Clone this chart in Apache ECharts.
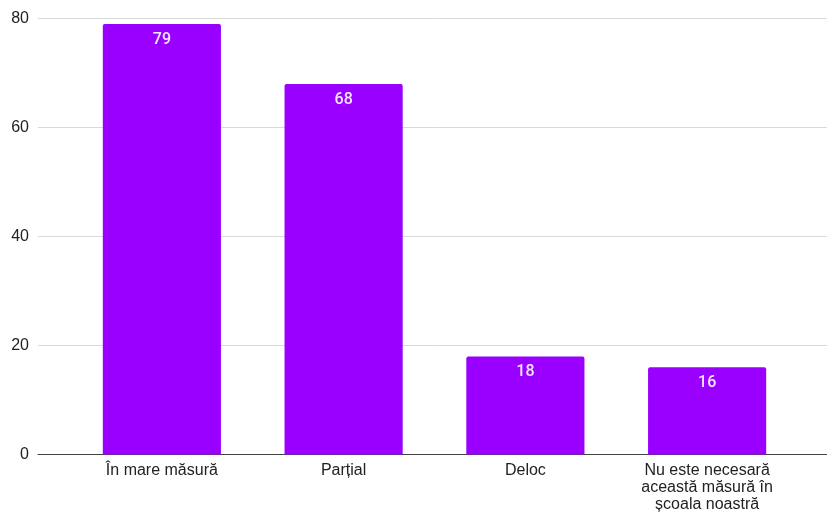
<!DOCTYPE html>
<html><head><meta charset="utf-8">
<script src="https://cdn.jsdelivr.net/npm/echarts@6/dist/echarts.min.js"></script>
<style>html,body{margin:0;padding:0;background:#fff}#c{width:827px;height:514px}</style>
</head><body><div id="c"></div>
<script>
const categories = ["În mare măsură", "Parțial", "Deloc", "Nu este necesară\naceastă măsură în\nșcoala noastră"];
const values = [79, 68, 18, 16];
const yTicks = [0, 20, 40, 60, 80];

const chart = echarts.init(document.getElementById('c'));
const gTop = 18.5, gBottom = 514 - 454.5;
chart.setOption({
  animation: false,
  grid: [
    {left: 38, right: 0, top: gTop, bottom: gBottom, containLabel: false},
    {left: 71, right: 29, top: gTop, bottom: gBottom, containLabel: false}
  ],
  xAxis: [
    {type: 'category', gridIndex: 0, data: [''], axisLine: {show: true, lineStyle: {color: '#444', width: 1.2}}, axisTick: {show: false}, axisLabel: {show: false}},
    {type: 'category', gridIndex: 1, data: categories, axisLine: {show: false}, axisTick: {show: false},
     axisLabel: {interval: 0, color: '#222', fontFamily: 'Liberation Sans, Arial', fontSize: 16, lineHeight: 17, margin: 8}}
  ],
  yAxis: [
    {type: 'value', gridIndex: 0, min: yTicks[0], max: yTicks[yTicks.length - 1], interval: 20,
     axisLine: {show: false}, axisTick: {show: false},
     axisLabel: {color: '#222', fontFamily: 'Liberation Sans, Arial', fontSize: 16, margin: 9},
     splitLine: {lineStyle: {color: '#d9d9d9', width: 1}}},
    {type: 'value', gridIndex: 1, min: yTicks[0], max: yTicks[yTicks.length - 1], interval: 20, show: false}
  ],
  series: [{
    type: 'bar', xAxisIndex: 1, yAxisIndex: 1, data: values,
    barWidth: '65%',
    itemStyle: {color: '#9900ff', borderRadius: [2, 2, 0, 0]},
    label: {show: true, position: 'insideTop', distance: 8, color: '#f6e8ff', fontFamily: 'Roboto, Arial', fontSize: 16, fontWeight: 500}
  }]
});
</script></body></html>
